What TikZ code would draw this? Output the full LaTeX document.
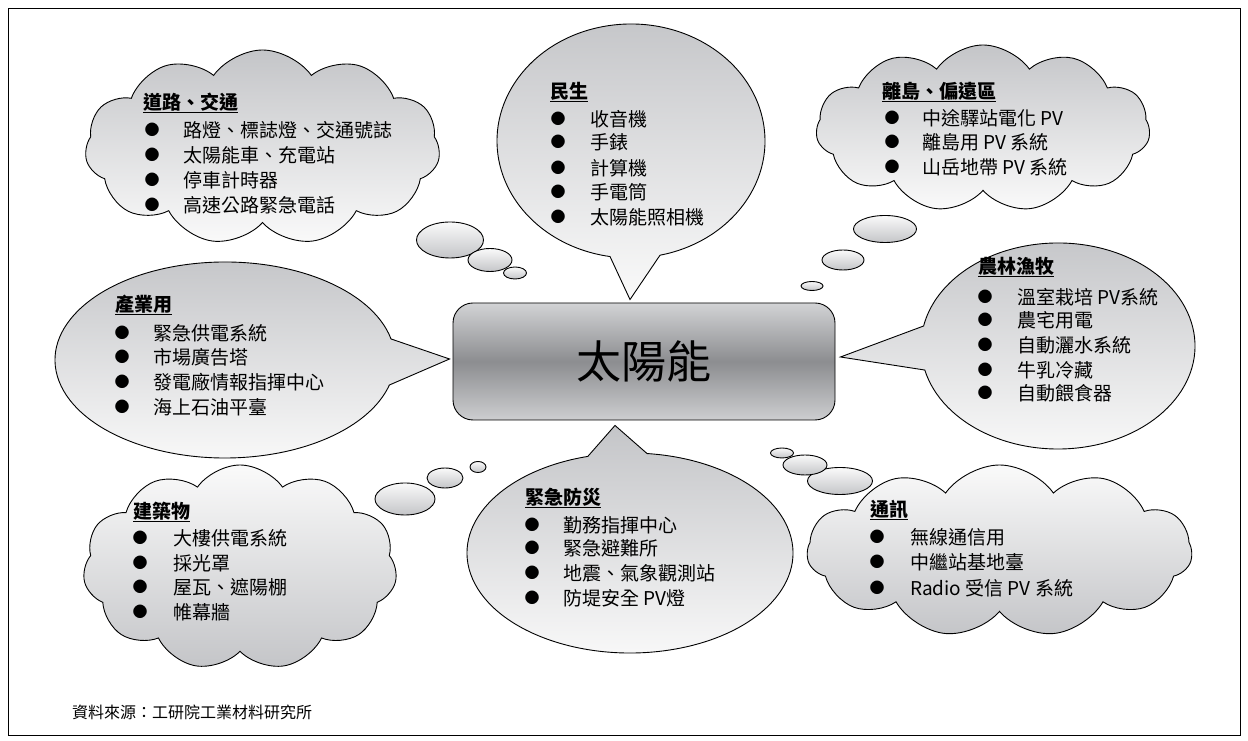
\documentclass[tikz,border=0pt]{standalone}
\usepackage{fontspec}
\setmainfont{Noto Sans CJK TC}
\usetikzlibrary{shapes.symbols,shapes.geometric,calc}
\definecolor{shgray}{RGB}{196,197,200}
\definecolor{shwhite}{RGB}{250,250,250}
\definecolor{suntop}{RGB}{210,211,213}
\definecolor{sunmid}{RGB}{140,141,144}
\definecolor{sunbot}{RGB}{205,206,208}
\newcommand\itm[5]{\node[dotmark] (#1b) at (#2,#4) {●}; \node[itemtext] (#1) at (#3,#4) {#5};}
\begin{document}
\begin{tikzpicture}[x=1pt,y=1pt,
  outline/.style={draw=black,line width=0.9pt},
  topshade/.style={top color=shgray,bottom color=shwhite},
  flipshade/.style={top color=shwhite,bottom color=shgray},
  cloudbox/.style={cloud,cloud puffs=11,cloud puff arc=110,outline,inner sep=0pt},
  thought/.style={ellipse,outline,inner sep=0pt,top color=shwhite,bottom color=shgray},
  head/.style={anchor=west,inner sep=0pt,font=\fontsize{19}{22}\selectfont\bfseries},
  itemtext/.style={anchor=west,inner sep=0pt,font=\fontsize{19}{22}\selectfont},
  dotmark/.style={inner sep=0pt,font=\fontsize{15}{18}\selectfont},
]
\useasboundingbox (0,0) rectangle (1248,741);
\draw[line width=0.8pt] (8,6) rectangle (1240,733);

% central box
\node[outline,rounded corners=20pt,minimum width=382pt,minimum height=117pt,
  shading=axis,top color=suntop,bottom color=sunbot,middle color=sunmid,
  font=\fontsize{45}{50}\selectfont] (sun) at (644,379.5) {太陽能};

% speech bubbles
\coordinate (minc) at (631,600);
\coordinate (mintip) at ($(sun.north)+(-14,3)$);
\path[outline,topshade] (minc) ++(282.5:134 and 117) arc[start angle=282.5,end angle=621,x radius=134,y radius=117] -- (mintip) -- cycle;

\coordinate (indc) at (225,381);
\coordinate (indtip) at ($(sun.west)+(-3,2.5)$);
\path[outline,topshade] (indc) ++(12.4:170 and 98) arc[start angle=12.4,end angle=345.2,x radius=170,y radius=98] -- (indtip) -- cycle;

\coordinate (agrc) at (1058,395);
\coordinate (agrtip) at ($(sun.east)+(5,4.5)$);
\path[outline,topshade] (agrc) ++(193.5:137 and 103) arc[start angle=193.5,end angle=528.8,x radius=137,y radius=103] -- (agrtip) -- cycle;

\coordinate (emec) at (630,188);
\coordinate (emetip) at ($(sun.south)+(-29,-5)$);
\path[outline,topshade] (emec) ++(105:163 and 100) arc[start angle=105,end angle=444,x radius=163,y radius=100] -- (emetip) -- cycle;

% clouds
\node[cloudbox,topshade,minimum width=355pt,minimum height=195pt] (road) at (262.5,593.5) {};
\node[cloudbox,topshade,minimum width=334pt,minimum height=167pt] (isl) at (983,612.5) {};
\node[cloudbox,flipshade,minimum width=314pt,minimum height=205pt] (bld) at (240,173.5) {};
\node[cloudbox,flipshade,minimum width=385pt,minimum height=172pt] (com) at (999.5,190) {};

% thought bubbles
\node[thought,minimum width=67pt,minimum height=36pt] (r1) at (450,501) {};
\node[thought,minimum width=44pt,minimum height=23pt] (r2) at (490,481) {};
\node[thought,minimum width=23pt,minimum height=12pt] (r3) at (515,468) {};
\node[thought,minimum width=63pt,minimum height=27pt] (i1) at (885,512) {};
\node[thought,minimum width=42pt,minimum height=20pt] (i2) at (843,481) {};
\node[thought,minimum width=22pt,minimum height=9pt] (i3) at (812,455) {};
\node[thought,minimum width=60pt,minimum height=32pt] (b1) at (405,242) {};
\node[thought,minimum width=36pt,minimum height=20pt] (b2) at (445,263) {};
\node[thought,minimum width=16pt,minimum height=11pt] (b3) at (478,274) {};
\node[thought,minimum width=65pt,minimum height=27pt] (c1) at (840,260) {};
\node[thought,minimum width=44pt,minimum height=20pt] (c2) at (805,276) {};
\node[thought,minimum width=23pt,minimum height=10pt] (c3) at (782,288) {};

% texts
\node[head] (hroad) at (143,638) {\underline{道路、交通}};
\itm{road1}{152}{183}{611}{路燈、標誌燈、交通號誌}
\itm{road2}{152}{183}{586}{太陽能車、充電站}
\itm{road3}{152}{183}{561}{停車計時器}
\itm{road4}{152}{183}{536}{高速公路緊急電話}

\node[head] (hmin) at (550,649) {\underline{民生}};
\itm{min1}{558}{590}{622}{收音機}
\itm{min2}{558}{590}{599}{手錶}
\itm{min3}{558}{590}{573}{計算機}
\itm{min4}{558}{590}{549}{手電筒}
\itm{min5}{558}{590}{524}{太陽能照相機}

\node[head] (hisl) at (882,649) {\underline{離島、偏遠區}};
\itm{isl1}{892}{922}{623}{中途驛站電化 PV}
\itm{isl2}{892}{922}{599}{離島用 PV 系統}
\itm{isl3}{892}{922}{574}{山岳地帶 PV 系統}

\node[head] (hind) at (115,436) {\underline{產業用}};
\itm{ind1}{122}{153}{408}{緊急供電系統}
\itm{ind2}{122}{153}{384}{市場廣告塔}
\itm{ind3}{122}{153}{359}{發電廠情報指揮中心}
\itm{ind4}{122}{153}{334}{海上石油平臺}

\node[head] (hagr) at (978,474) {\underline{農林漁牧}};
\itm{agr1}{985}{1017}{444}{溫室栽培 PV系統}
\itm{agr2}{985}{1017}{421}{農宅用電}
\itm{agr3}{985}{1017}{396}{自動灑水系統}
\itm{agr4}{985}{1017}{371}{牛乳冷藏}
\itm{agr5}{985}{1017}{348}{自動餵食器}

\node[head] (hbld) at (133,229) {\underline{建築物}};
\itm{bld1}{140}{173}{203}{大樓供電系統}
\itm{bld2}{140}{173}{178}{採光罩}
\itm{bld3}{140}{173}{154}{屋瓦、遮陽棚}
\itm{bld4}{140}{173}{129}{帷幕牆}

\node[head] (heme) at (525,243) {\underline{緊急防災}};
\itm{eme1}{532}{563}{216}{勤務指揮中心}
\itm{eme2}{532}{563}{193}{緊急避難所}
\itm{eme3}{532}{563}{168}{地震、氣象觀測站}
\itm{eme4}{532}{563}{143}{防堤安全 PV燈}

\node[head] (hcom) at (870,231) {\underline{通訊}};
\itm{com1}{877}{910}{204}{無線通信用}
\itm{com2}{877}{910}{179}{中繼站基地臺}
\itm{com3}{877}{910}{153}{Radio 受信 PV 系統}

\node[anchor=west,inner sep=0pt,font=\fontsize{16}{18}\selectfont] (src) at (72,29) {資料來源：工研院工業材料研究所};
\end{tikzpicture}
\end{document}
